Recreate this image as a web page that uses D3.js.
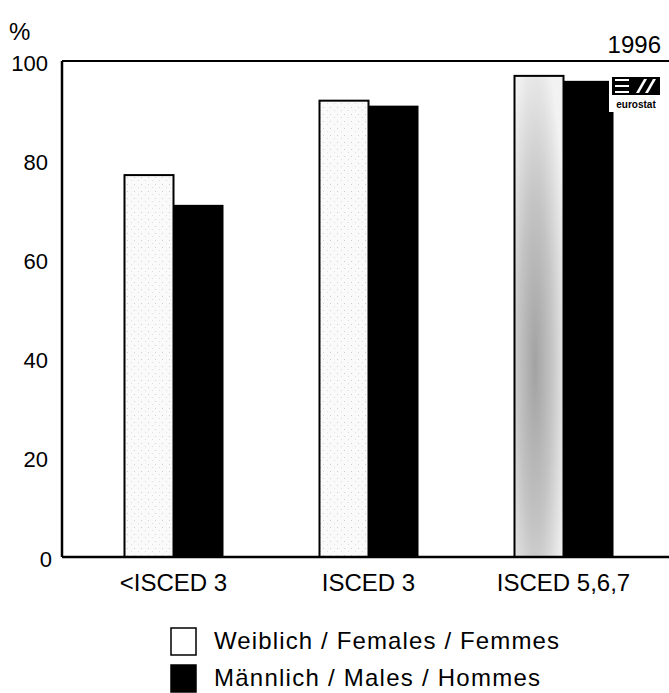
<!DOCTYPE html>
<html><head><meta charset="utf-8">
<script src="https://cdn.jsdelivr.net/npm/d3@7"></script>
<style>body{margin:0;background:#fff}svg{display:block;font-family:"Liberation Sans",Arial,sans-serif}</style>
</head><body><svg id="c" width="669" height="693"></svg>
<script>
const categories = ["<ISCED 3", "ISCED 3", "ISCED 5,6,7"];
const females = [77, 92, 97];
const males = [71, 91, 96];
const yTicks = [0, 20, 40, 60, 80, 100];
const seriesNames = ["Weiblich / Females / Femmes", "Männlich / Males / Hommes"];

const svg = d3.select("#c");
const defs = svg.append("defs");
const pat = defs.append("pattern").attr("id","stip").attr("width",7).attr("height",7).attr("patternUnits","userSpaceOnUse");
pat.append("rect").attr("width",7).attr("height",7).attr("fill","#fafafa");
pat.append("rect").attr("x",1).attr("y",2).attr("width",1).attr("height",1).attr("fill","#d0d0d0");
pat.append("rect").attr("x",5).attr("y",5).attr("width",1).attr("height",1).attr("fill","#dedede");
const rg = defs.append("radialGradient").attr("id","dark").attr("cx","0.42").attr("cy","0.6").attr("r","0.68");
rg.append("stop").attr("offset","0").attr("stop-color","#a2a2a2");
rg.append("stop").attr("offset","0.5").attr("stop-color","#c4c4c4");
rg.append("stop").attr("offset","1").attr("stop-color","#f2f2f2");

const plotLeft = 62, plotRight = 669, plotTop = 61, plotBottom = 557;
const y = d3.scaleLinear().domain([0,100]).range([plotBottom, plotTop]);
const x = d3.scaleBand().domain(categories).range([76, 661]).paddingInner(0).paddingOuter(0);
const barW = 49;

svg.append("line").attr("x1",plotLeft).attr("x2",plotRight).attr("y1",plotTop).attr("y2",plotTop).attr("stroke","#000").attr("stroke-width",2);

svg.selectAll("rect.f").data(categories).join("rect").attr("class","f")
  .attr("x", d => x(d) + x.bandwidth()/2 - barW)
  .attr("y", (d,i) => y(females[i]))
  .attr("width", barW)
  .attr("height", (d,i) => y(0) - y(females[i]))
  .attr("fill", (d,i) => i === 2 ? "url(#dark)" : "url(#stip)")
  .attr("stroke","#000").attr("stroke-width",2);
svg.selectAll("rect.m").data(categories).join("rect").attr("class","m")
  .attr("x", d => x(d) + x.bandwidth()/2)
  .attr("y", (d,i) => y(males[i]))
  .attr("width", barW + 1)
  .attr("height", (d,i) => y(0) - y(males[i]))
  .attr("fill","#000");

svg.append("line").attr("x1",plotLeft).attr("x2",plotLeft).attr("y1",plotTop).attr("y2",plotBottom).attr("stroke","#000").attr("stroke-width",2.5);
svg.append("line").attr("x1",plotLeft).attr("x2",plotRight).attr("y1",plotBottom).attr("y2",plotBottom).attr("stroke","#000").attr("stroke-width",2.5);

const yAxis = d3.axisLeft(y).tickValues(yTicks).tickSize(0).tickPadding(14);
const gy = svg.append("g").attr("transform",`translate(${plotLeft},2)`).call(yAxis);
gy.select(".domain").remove();
gy.selectAll("text").attr("font-size",22).attr("fill","#000").attr("font-family","Liberation Sans, Arial, sans-serif")
  .attr("dx", d => d === 0 ? 4 : 0);

const xAxis = d3.axisBottom(x).tickSize(0).tickPadding(16);
const gx = svg.append("g").attr("transform",`translate(0,${plotBottom})`).call(xAxis);
gx.select(".domain").remove();
gx.selectAll("text").attr("font-size",24).attr("fill","#000").attr("font-family","Liberation Sans, Arial, sans-serif")
  .attr("y", 34).attr("dy", 0);

svg.append("text").attr("x",9).attr("y",40).attr("font-size",24).text("%");
svg.append("text").attr("x",661).attr("y",53).attr("text-anchor","end").attr("font-size",24).text("1996");

const lg = svg.append("g");
lg.append("rect").attr("x",609).attr("y",74).attr("width",56).attr("height",38).attr("fill","#fff");
lg.append("rect").attr("x",612).attr("y",77).attr("width",48).attr("height",18).attr("fill","#000");
[79,85,91].forEach(yy => lg.append("rect").attr("x",615).attr("y",yy).attr("width",14).attr("height",2).attr("fill","#fff"));
lg.append("polygon").attr("points","636,93 639,93 647,79 644,79").attr("fill","#fff");
lg.append("polygon").attr("points","645,93 648,93 656,79 653,79").attr("fill","#fff");
lg.append("text").attr("x",636).attr("y",108).attr("text-anchor","middle").attr("font-size",10).attr("font-weight","bold").text("eurostat");

const legY = [628, 665];
const legW = [345, 326];
const lgd = svg.selectAll("g.leg").data(seriesNames).join("g").attr("class","leg")
  .attr("transform",(d,i)=>`translate(171,${legY[i]})`);
lgd.append("rect").attr("width",25).attr("height",27)
  .attr("fill",(d,i)=> i===0 ? "#fff" : "#000").attr("stroke","#000").attr("stroke-width",1.5);
lgd.append("text").attr("x",43).attr("y",21).attr("font-size",24)
  .attr("textLength",(d,i)=>legW[i]).attr("lengthAdjust","spacing").text(d=>d);
</script></body></html>
